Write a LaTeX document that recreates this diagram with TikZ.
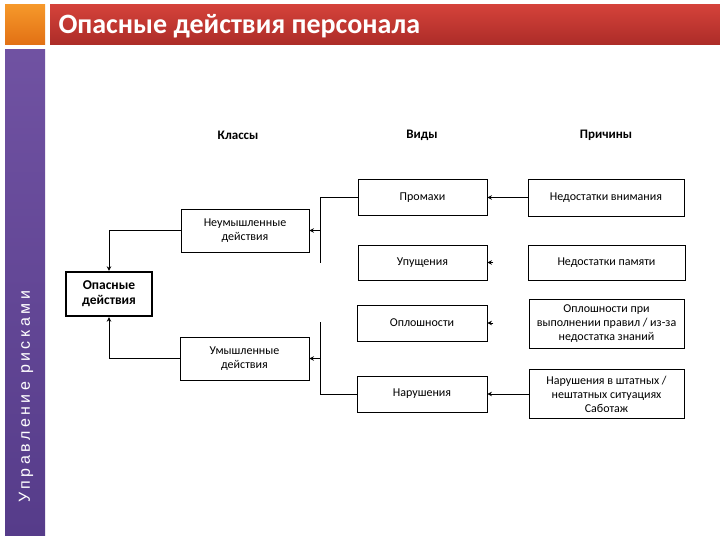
\documentclass[tikz,border=0pt]{standalone}
\usepackage{fontspec}
\setmainfont{Carlito}
\newfontfamily\bokfont[LetterSpace=22]{Liberation Sans}
\usetikzlibrary{positioning, arrows.meta}
\definecolor{oranzh1}{RGB}{246,152,42}
\definecolor{oranzh2}{RGB}{226,112,20}
\definecolor{krasn1}{RGB}{212,66,58}
\definecolor{krasn2}{RGB}{172,44,40}
\definecolor{fiolet1}{RGB}{112,82,162}
\definecolor{fiolet2}{RGB}{86,60,138}

\begin{document}
\begin{tikzpicture}[x=1pt, y=-1pt,
      blok/.style={draw, line width=0.9pt, align=center, inner sep=2pt, font=\fontsize{12pt}{14pt}\selectfont},
      glavblok/.style={draw, line width=2.4pt, align=center, inner sep=2pt, font=\fontsize{13.5pt}{15pt}\selectfont\bfseries},
      zagl/.style={font=\fontsize{13pt}{14pt}\selectfont\bfseries},
      linija/.style={line width=0.8pt},
      strelka/.style={-{Stealth[length=4.5pt, width=4.5pt]}, line width=0.8pt}]
      \useasboundingbox (0,0) rectangle (720,540);
      \fill[white] (0,0) rectangle (720,540);

      % шапка слайда
      \shade[top color=oranzh1, bottom color=oranzh2] (5,5) rectangle (45,45);
      \shade[top color=krasn1, bottom color=krasn2] (50,5) rectangle (720,45);
      \shade[top color=fiolet1, bottom color=fiolet2] (5,50) rectangle (45,535);
      \node[anchor=west, text=white, font=\fontsize{28pt}{30pt}\selectfont\bfseries] (titul) at (55,26) {Опасные действия персонала};
      \node[anchor=west, rotate=90, text=white, font=\fontsize{16pt}{18pt}\bokfont] (bok) at (26,506) {Управление рисками};

      % заголовки столбцов
      \node[zagl] (h_klass) at (238,135) {Классы};
      \node[zagl] (h_vid) at (422,135) {Виды};
      \node[zagl] (h_prich) at (606,135) {Причины};

      % главный блок
      \node[glavblok, minimum width=86pt, minimum height=44pt] (opas) at (109,294) {Опасные\\ действия};

      % классы
      \node[blok, minimum width=128pt, minimum height=43pt] (neum) at (245,230.5) {Неумышленные\\ действия};
      \node[blok, minimum width=129pt, minimum height=43pt] (umysh) at (244.5,358.5) {Умышленные\\ действия};

      % виды
      \node[blok, minimum width=129pt, minimum height=36pt] (prom) at (422.5,197.5) {Промахи};
      \node[blok, minimum width=129pt, minimum height=35pt] (upush) at (422.5,262.5) {Упущения};
      \node[blok, minimum width=130pt, minimum height=36pt] (oplosh) at (422,323) {Оплошности};
      \node[blok, minimum width=130pt, minimum height=36pt] (narush) at (422,394) {Нарушения};

      % причины
      \node[blok, minimum width=156pt, minimum height=37pt] (pr_vnim) at (606,197.5) {Недостатки внимания};
      \node[blok, minimum width=157pt, minimum height=35pt] (pr_pam) at (606.5,262.5) {Недостатки памяти};
      \node[blok, minimum width=155pt, minimum height=49pt] (pr_opl) at (606.5,323.5) {Оплошности при\\ выполнении правил / из-за\\ недостатка знаний};
      \node[blok, minimum width=155pt, minimum height=49pt] (pr_nar) at (606.5,394) {Нарушения в штатных /\\ нештатных ситуациях\\ Саботаж};

      % узлы на шинах
      \coordinate (shina1) at (320,263);
      \coordinate (shina2) at (320,322);

      % связи
      \draw[linija] (prom.west) -| (shina1);
      \draw[strelka] (neum.east -| shina1) -- (neum.east);
      \draw[linija] (shina2) |- (narush.west);
      \draw[strelka] (umysh.east -| shina2) -- (umysh.east);
      \draw[strelka] (neum.west) -| (opas.north);
      \draw[strelka] (umysh.west) -| (opas.south);

      \draw[strelka] (pr_vnim) -- (prom);
      \draw[strelka] ([xshift=6pt]upush.east) -- (upush.east);
      \draw[strelka] ([xshift=6pt]oplosh.east) -- (oplosh.east);
      \draw[strelka] (pr_nar.west) -- (narush.east);
    \end{tikzpicture}
\end{document}
